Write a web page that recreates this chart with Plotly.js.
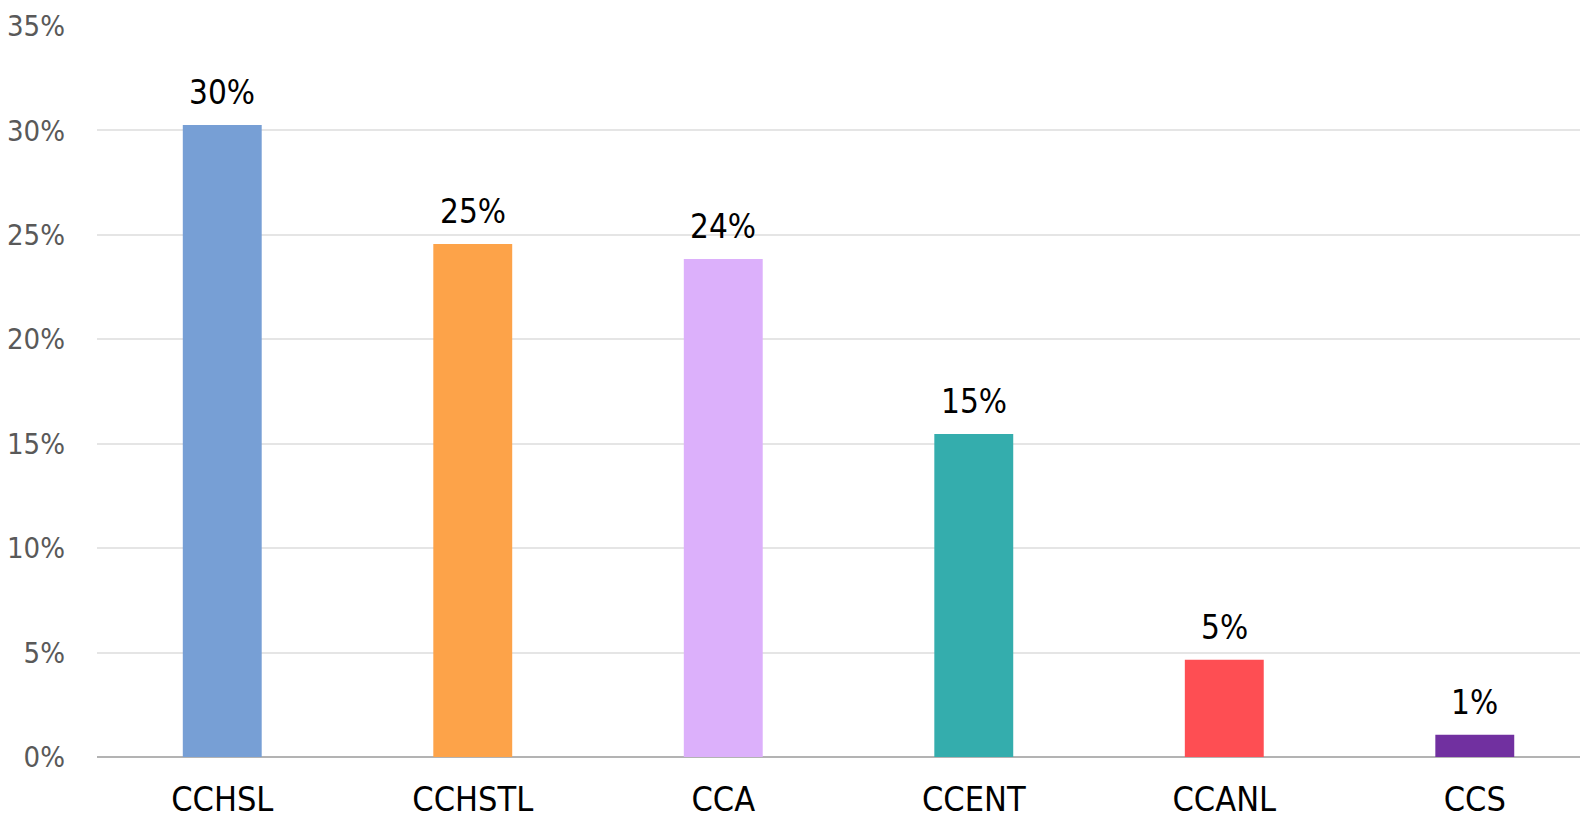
<!DOCTYPE html>
<html>
<head>
<meta charset="utf-8">
<script src="https://cdn.plot.ly/plotly-3.0.1.min.js"></script>
<style>html,body{margin:0;padding:0;background:#fff;}#chart{width:1580px;height:824px;}</style>
</head>
<body>
<div id="chart"></div>
<script>
const categories = ["CCHSL", "CCHSTL", "CCA", "CCENT", "CCANL", "CCS"];
const shares = [0.3026, 0.2456, 0.2385, 0.1547, 0.0466, 0.0107];
const barColors = ["#779fd5", "#fda349", "#dcb0fb", "#34adad", "#fe4e53", "#7130a0"];
const yTickVals = [0, 0.05, 0.10, 0.15, 0.20, 0.25, 0.30, 0.35];

const FONT = '"DejaVu Sans Condensed", "Liberation Sans Narrow", "DejaVu Sans", sans-serif';

const trace = {
  type: "bar",
  x: categories,
  y: shares,
  marker: {color: barColors},
  width: 0.315,
  hoverinfo: "skip"
};

const annotations = categories.map((c, i) => ({
  x: c, y: shares[i], xref: "x", yref: "y",
  text: Math.round(shares[i] * 100) + "%",
  showarrow: false, yanchor: "bottom", yshift: 11,
  font: {family: FONT, size: 33, color: "#000000"}
}));

const layout = {
  width: 1580, height: 824,
  margin: {l: 97, r: 0, t: 26, b: 67},
  paper_bgcolor: "#ffffff", plot_bgcolor: "#ffffff",
  showlegend: false,
  bargap: 0.685,
  xaxis: {
    type: "category",
    range: [-0.5, 5.42],
    showgrid: false, zeroline: false,
    showline: false,
    ticks: "",
    ticklabelstandoff: 19,
    tickfont: {family: FONT, size: 34, color: "#000000"}
  },
  yaxis: {
    range: [0, 0.35],
    tickvals: yTickVals,
    tickformat: ".0%",
    showgrid: true, gridcolor: "#e5e5e5", gridwidth: 2,
    zeroline: true, zerolinecolor: "#b3b3b3", zerolinewidth: 2.5,
    showline: false, ticks: "",
    ticklabelstandoff: 31,
    tickfont: {family: FONT, size: 29, color: "#595959"}
  },
  annotations: annotations
};

Plotly.newPlot("chart", [trace], layout, {displayModeBar: false, staticPlot: true});
</script>
</body>
</html>
